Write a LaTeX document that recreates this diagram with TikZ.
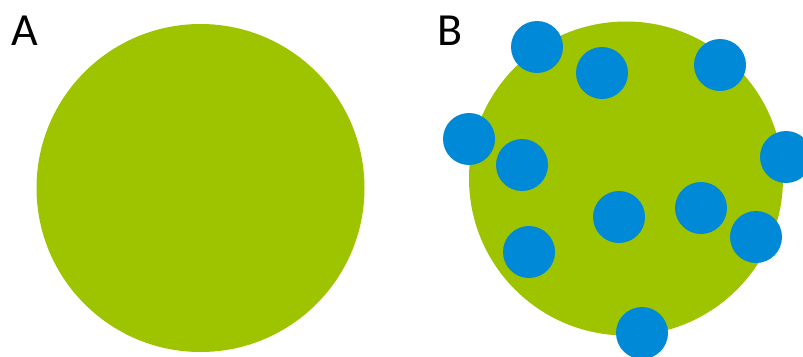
\documentclass[tikz,border=0pt]{standalone}
\usepackage{fontspec}
\setmainfont{Carlito}
\definecolor{cellgreen}{RGB}{158,196,0}
\definecolor{dotblue}{RGB}{0,137,214}

\begin{document}
\begin{tikzpicture}[
    x=1pt, y=-1pt,
    label/.style={font=\fontsize{46}{46}\selectfont, inner sep=0pt}
]
    % Fix the canvas size
    \useasboundingbox (0,0) rectangle (803,356);

    % Panel labels
    \node[label] (labA) at (25,31) {A};
    \node[label] (labB) at (450,31) {B};

    % Panel A: bare particle
    \fill[cellgreen] (200.5,188) circle (164);

    % Panel B: particle with attached dots
    \fill[cellgreen] (626,178.5) circle (157);
    \begin{scope}
        \clip (0,0) rectangle (803,356);
        \foreach \x/\y in {537/47, 602/73, 720/65, 469/139, 522/165,
                           786/157, 619/217, 701/208, 756/237, 529/252, 642/333}
            \fill[dotblue] (\x,\y) circle (26);
    \end{scope}
\end{tikzpicture}
\end{document}
